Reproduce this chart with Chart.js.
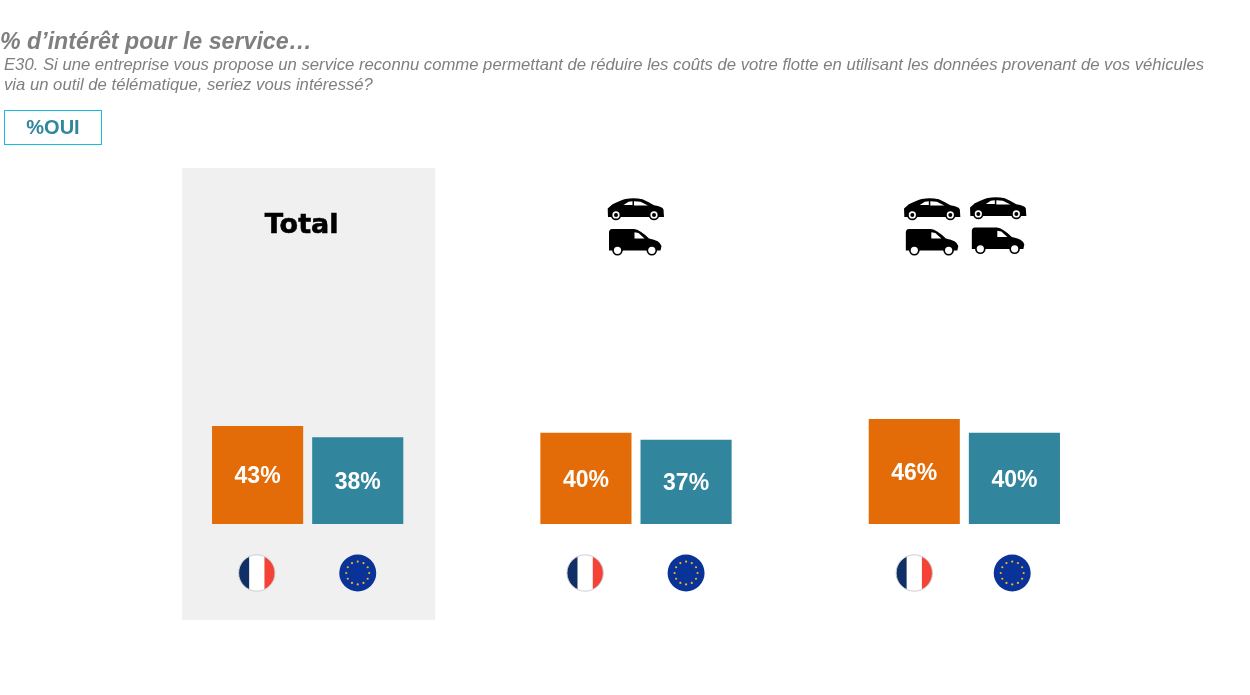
<!DOCTYPE html>
<html lang="fr">
<head>
<meta charset="utf-8">
<title>% d'intérêt pour le service</title>
<script src="https://cdn.jsdelivr.net/npm/chart.js@4"></script>
<style>
    html, body { margin: 0; padding: 0; background: #fff; width: 1250px; height: 695px; overflow: hidden; }
    #chart { position: absolute; left: 0; top: 0; }
    .txt { position: absolute; font-family: "Liberation Sans", Arial, sans-serif; white-space: nowrap; color: #7f7f7f; }
    #title { left: 0; top: 28px; font-size: 23.2px; font-weight: bold; font-style: italic; }
    #sub { left: 4px; top: 55px; font-size: 16.68px; font-style: italic; line-height: 20px; }
    #badge { left: 4px; top: 110px; width: 96px; height: 33px; border: 1px solid #12bfe0; color: #31859c;
             font-size: 20px; font-weight: bold; line-height: 33px; text-align: center; }
</style>
</head>
<body>
<canvas id="chart" width="1250" height="695"></canvas>
<div class="txt" id="title">% d’intérêt pour le service…</div>
<div class="txt" id="sub">E30. Si une entreprise vous propose un service reconnu comme permettant de réduire les coûts de votre flotte en utilisant les données provenant de vos véhicules<br>via un outil de télématique, seriez vous intéressé?</div>
<div class="txt" id="badge">%OUI</div>
<script>
const categories = ['Total', 'Une catégorie', 'Deux catégories'];
const franceValues = [43, 40, 46];
const europeValues = [38, 37, 40];

const ORANGE = '#e36c09';
const TEAL = '#31859c';

function drawPoly(ctx, pts) {
    ctx.beginPath();
    pts.forEach((p, i) => i ? ctx.lineTo(p[0], p[1]) : ctx.moveTo(p[0], p[1]));
    ctx.closePath();
    ctx.fill();
}

function drawCar(ctx, cx, cy) {
    ctx.save();
    ctx.translate(cx, cy);
    ctx.fillStyle = '#000';
    ctx.beginPath();
    ctx.moveTo(-27.5, 7.5);
    ctx.lineTo(-27.8, -1);
    ctx.lineTo(-23, -5.2);
    ctx.quadraticCurveTo(-15, -9.5, -10, -10.6);
    ctx.quadraticCurveTo(-1, -12, 7, -10.2);
    ctx.quadraticCurveTo(12, -8, 18.5, -4.2);
    ctx.quadraticCurveTo(27, -3, 28, 0);
    ctx.lineTo(28.5, 7.5);
    ctx.closePath();
    ctx.fill();
    ctx.fillStyle = '#fff';
    drawPoly(ctx, [[-12, -4.6], [-7, -7.8], [-3, -8.2], [-3, -4.6]]);
    drawPoly(ctx, [[-1.5, -8.2], [5, -7.8], [12.5, -3.9], [-1.5, -3.9]]);
    drawWheel(ctx, -19.5, 5.4, true);
    drawWheel(ctx, 18.5, 5.4, true);
    ctx.restore();
}

function drawVan(ctx, cx, cy) {
    ctx.save();
    ctx.translate(cx, cy);
    ctx.fillStyle = '#000';
    ctx.beginPath();
    ctx.moveTo(-26, 8.5);
    ctx.lineTo(-26, -10);
    ctx.quadraticCurveTo(-25.5, -13, -23, -13);
    ctx.lineTo(-1, -13);
    ctx.quadraticCurveTo(5, -12.5, 14, -3.4);
    ctx.quadraticCurveTo(25, -1.5, 26.5, 4);
    ctx.lineTo(25.5, 8.5);
    ctx.closePath();
    ctx.fill();
    ctx.fillStyle = '#fff';
    drawPoly(ctx, [[-0.5, -9.8], [3.5, -9.1], [9.5, -3.6], [-0.5, -3.6]]);
    drawWheel(ctx, -17.5, 8.3, false);
    drawWheel(ctx, 16.8, 8.3, false);
    ctx.restore();
}

function drawWheel(ctx, x, y, hub) {
    ctx.fillStyle = '#000';
    ctx.beginPath(); ctx.arc(x, y, 5.3, 0, Math.PI * 2); ctx.fill();
    ctx.fillStyle = '#fff';
    ctx.beginPath(); ctx.arc(x, y, 3.6, 0, Math.PI * 2); ctx.fill();
    if (hub) {
        ctx.fillStyle = '#000';
        ctx.beginPath(); ctx.arc(x, y, 2, 0, Math.PI * 2); ctx.fill();
    }
}

function drawFrance(ctx, x, y, r) {
    ctx.save();
    ctx.beginPath();
    ctx.arc(x, y, r, 0, Math.PI * 2);
    ctx.clip();
    ctx.fillStyle = '#fff';
    ctx.fillRect(x - r, y - r, r * 2, r * 2);
    ctx.fillStyle = '#0f2f66';
    ctx.fillRect(x - r, y - r, r * 0.58, r * 2);
    ctx.fillStyle = '#f44336';
    ctx.fillRect(x + r * 0.42, y - r, r * 0.58, r * 2);
    ctx.restore();
    ctx.strokeStyle = '#cfcfcf';
    ctx.lineWidth = 1;
    ctx.beginPath();
    ctx.arc(x, y, r, 0, Math.PI * 2);
    ctx.stroke();
}

function drawEurope(ctx, x, y, r) {
    ctx.fillStyle = '#0a3399';
    ctx.beginPath();
    ctx.arc(x, y, r, 0, Math.PI * 2);
    ctx.fill();
    ctx.fillStyle = '#f6b61c';
    for (let i = 0; i < 12; i++) {
        const a = i * Math.PI / 6;
        ctx.beginPath();
        ctx.arc(x + Math.cos(a) * r * 0.62, y + Math.sin(a) * r * 0.62, 1.1, 0, Math.PI * 2);
        ctx.fill();
    }
}

// grey panel behind the first group
const panelPlugin = {
    id: 'panel',
    beforeDatasetsDraw(chart) {
        const ctx = chart.ctx;
        const cx = chart.scales.x.getPixelForValue(0);
        ctx.save();
        ctx.fillStyle = '#f0f0f0';
        ctx.fillRect(cx - 125.5, 168, 253, 452);
        ctx.restore();
    }
};

// values inside the bars, flags under them, headers above
const decorPlugin = {
    id: 'decor',
    afterDatasetsDraw(chart) {
        const ctx = chart.ctx;
        ctx.save();
        chart.data.datasets.forEach((ds, d) => {
            chart.getDatasetMeta(d).data.forEach((bar, i) => {
                ctx.fillStyle = '#fff';
                ctx.font = 'bold 23px "Liberation Sans", Arial, sans-serif';
                ctx.textAlign = 'center';
                ctx.textBaseline = 'middle';
                ctx.fillText(ds.data[i] + '%', bar.x, (bar.y + bar.base) / 2 + 2);
                if (d === 0) drawFrance(ctx, bar.x - (i === 2 ? 0 : 0.8), 573, 18.2);
                else drawEurope(ctx, bar.x - (i === 2 ? 2.2 : 0), 573, 18.5);
            });
        });

        const xs = chart.scales.x;
        ctx.fillStyle = '#000';
        ctx.strokeStyle = '#000';
        ctx.lineWidth = 0.6;
        ctx.font = 'bold 27px "DejaVu Sans", sans-serif';
        ctx.textAlign = 'center';
        ctx.textBaseline = 'middle';
        ctx.fillText(categories[0], xs.getPixelForValue(0) - 6, 226);
        ctx.strokeText(categories[0], xs.getPixelForValue(0) - 6, 226);

        const c2 = xs.getPixelForValue(1);
        drawCar(ctx, c2 - 0.5, 209.5);
        drawVan(ctx, c2 - 1, 242);

        const c3 = xs.getPixelForValue(2);
        drawCar(ctx, c3 - 32.5, 209.5);
        drawCar(ctx, c3 + 33.5, 208.5);
        drawVan(ctx, c3 - 32.5, 242);
        drawVan(ctx, c3 + 33.5, 240.5);
        ctx.restore();
    }
};

new Chart(document.getElementById('chart').getContext('2d'), {
    type: 'bar',
    data: {
        labels: categories,
        datasets: [
            { label: 'France', data: franceValues, backgroundColor: ORANGE },
            { label: 'Europe', data: europeValues, backgroundColor: TEAL }
        ]
    },
    options: {
        responsive: false,
        animation: false,
        devicePixelRatio: 1,
        layout: { padding: { left: 143.5, right: 121.5, top: 296, bottom: 171 } },
        datasets: { bar: { categoryPercentage: 0.61, barPercentage: 0.91 } },
        scales: {
            x: { display: false },
            y: { display: false, min: 0, max: 100 }
        },
        plugins: { legend: { display: false }, tooltip: { enabled: false } }
    },
    plugins: [panelPlugin, decorPlugin]
});
</script>
</body>
</html>
